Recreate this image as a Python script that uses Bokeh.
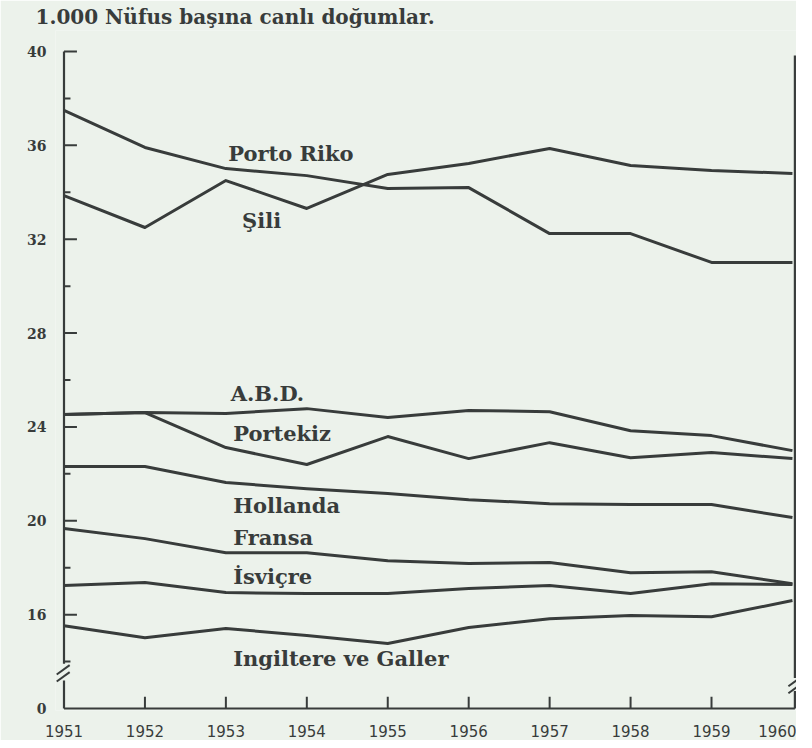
from bokeh.plotting import figure
from bokeh.models import FixedTicker, ColumnDataSource, Range1d
from bokeh.core.properties import value
from bokeh.embed import file_html
from bokeh.resources import INLINE

# ---- data ----
years = [1951, 1952, 1953, 1954, 1955, 1956, 1957, 1958, 1959, 1960]
porto_riko = [37.49, 35.91, 35.01, 34.71, 34.16, 34.20, 32.24, 32.24, 31.01, 31.01]
sili = [33.86, 32.50, 34.50, 33.31, 34.76, 35.23, 35.87, 35.14, 34.93, 34.80]
abd = [24.53, 24.61, 24.57, 24.78, 24.40, 24.70, 24.65, 23.84, 23.63, 22.99]
portekiz = [24.53, 24.61, 23.12, 22.40, 23.59, 22.65, 23.33, 22.69, 22.91, 22.65]
hollanda = [22.31, 22.31, 21.63, 21.37, 21.16, 20.90, 20.73, 20.69, 20.69, 20.14]
fransa = [19.67, 19.24, 18.64, 18.64, 18.30, 18.18, 18.22, 17.79, 17.83, 17.32]
isvicre = [17.24, 17.37, 16.94, 16.90, 16.90, 17.11, 17.24, 16.90, 17.32, 17.28]
ingiltere = [15.53, 15.02, 15.41, 15.11, 14.77, 15.45, 15.83, 15.96, 15.91, 16.60]

series = [porto_riko, sili, abd, portekiz, hollanda, fransa, isvicre, ingiltere]

label_names = ["Porto Riko", "Şili", "A.B.D.", "Portekiz", "Hollanda",
               "Fransa", "İsviçre", "Ingiltere ve Galler"]
label_x = [1953.03, 1953.2, 1953.06, 1953.09, 1953.09, 1953.09, 1953.09, 1953.09]
label_y = [35.65, 32.8, 25.42, 23.72, 20.65, 19.28, 17.62, 14.13]

title_text = "1.000 Nüfus başına canlı doğumlar."

# broken axis: the value 0 is drawn at position 12
y_zero_pos = 12
y_major = [12, 16, 20, 24, 28, 32, 36, 40]
y_major_labels = {12: "0"}
y_minor = [14, 18, 22, 26, 30, 34, 38]
x_ticks = years

BG = "#ecf2eb"
INK = "#383c3b"
FONT = "DejaVu Serif"

p = figure(width=796, height=740, output_backend="svg", toolbar_location=None,
           x_range=Range1d(1950.895, 1960.05), y_range=Range1d(11.915, 40.895),
           min_border_left=55, min_border_right=0, min_border_top=30,
           min_border_bottom=30)
p.background_fill_color = BG
p.border_fill_color = BG
p.outline_line_color = None
p.grid.visible = False

p.title.text = title_text
p.title.align = "left"
p.title.offset = -20
p.title.standoff = 3
p.title.text_font = FONT
p.title.text_font_size = "20px"
p.title.text_font_style = "bold"
p.title.text_color = INK

for ax in (p.xaxis[0], p.yaxis[0]):
    ax.axis_line_color = None
    ax.major_tick_line_color = None
    ax.minor_tick_line_color = None
    ax.major_label_text_color = INK

p.xaxis.ticker = FixedTicker(ticks=x_ticks)
p.xaxis.major_label_standoff = 8
p.xaxis.major_label_text_font = "DejaVu Sans"
p.xaxis.major_label_text_font_size = "15px"

p.yaxis.ticker = FixedTicker(ticks=y_major)
p.yaxis.major_label_overrides = {k: v for k, v in y_major_labels.items()}
p.yaxis.major_label_standoff = 3
p.yaxis.major_label_text_font = FONT
p.yaxis.major_label_text_font_size = "14px"
p.yaxis.major_label_text_font_style = "bold"

# ---- data lines ----
for s in series:
    p.line(years, s, line_color=INK, line_width=3, line_join="round")

# ---- axis frame drawn by hand (with breaks) ----
x0 = years[0]
x1 = years[-1] + 0.03
p.segment(x0=[x0, x0], y0=[13.91, y_zero_pos], x1=[x0, x0], y1=[y_major[-1], 13.19],
          line_color=INK, line_width=2.2)
p.segment(x0=[x0], y0=[y_zero_pos], x1=[x1], y1=[y_zero_pos], line_color=INK, line_width=2.2)
p.segment(x0=[x1, x1], y0=[y_zero_pos, 13.3], x1=[x1, x1], y1=[12.75, 39.83],
          line_color=INK, line_width=2.2)

# break marks
p.segment(x0=[x0 - 0.09, x0 - 0.09], y0=[13.15, 13.45], x1=[x0 + 0.07, x0 + 0.07], y1=[13.55, 13.85],
          line_color=INK, line_width=2)
p.segment(x0=[x1 - 0.08, x1 - 0.08], y0=[12.65, 12.95], x1=[x1 + 0.08, x1 + 0.08], y1=[13.05, 13.35],
          line_color=INK, line_width=2)

# tick marks (pointing inward)
ym = [t for t in y_major if t != y_zero_pos]
p.segment(x0=[x0] * len(ym), y0=ym, x1=[x0 + 0.16] * len(ym), y1=ym, line_color=INK, line_width=2)
p.segment(x0=[x0] * len(y_minor), y0=y_minor, x1=[x0 + 0.08] * len(y_minor),
          y1=y_minor, line_color=INK, line_width=2)
xt = x_ticks[1:-1]
p.segment(x0=xt, y0=[y_zero_pos] * len(xt), x1=xt, y1=[y_zero_pos + 0.5] * len(xt),
          line_color=INK, line_width=2)

# ---- series labels ----
src = ColumnDataSource(dict(x=label_x, y=label_y, t=label_names))
p.text(x="x", y="y", text="t", source=src, text_font=value(FONT), text_font_size="21px",
       text_font_style="bold", text_color=INK, text_baseline="middle", text_align="left")

open("out.html", "w").write(file_html(p, INLINE))
